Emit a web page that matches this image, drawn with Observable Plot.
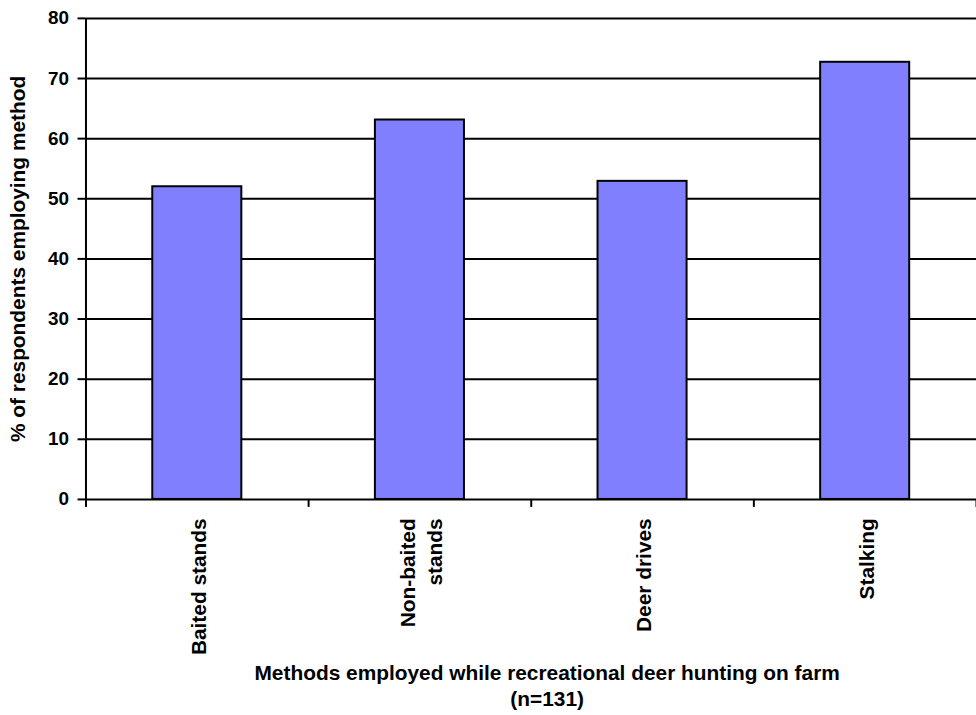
<!DOCTYPE html>
<html>
<head>
<meta charset="utf-8">
<script src="https://cdn.jsdelivr.net/npm/d3@7"></script>
<script src="https://cdn.jsdelivr.net/npm/@observablehq/plot@0.6"></script>
<style>
  html, body { margin: 0; padding: 0; background: #fff; overflow: hidden; }
  #chart svg { display: block; }
</style>
</head>
<body>
<div id="chart"></div>
<script>
// Hunting methods reported by respondents (n=131)
const categories = ["Baited stands", "Non-baited\nstands", "Deer drives", "Stalking"];
const percentages = [52.0, 63.1, 52.9, 72.7];
const yTicks = [0, 10, 20, 30, 40, 50, 60, 70, 80];
const xTitle = "Methods employed while recreational deer hunting on farm\n(n=131)";
const yTitle = "% of respondents employing method";

const rows = categories.map((name, i) => ({name, i, value: percentages[i]}));
const slots = d3.range(categories.length + 1);

const font = "'Liberation Sans', Arial, sans-serif";

const chart = Plot.plot({
  width: 982,
  height: 715,
  marginLeft: 86,
  marginRight: 0,
  marginTop: 18,
  marginBottom: 213,
  style: {fontFamily: font, fontWeight: "bold", fontSize: "19px", color: "#000", background: "#fff"},
  x: {domain: [0, categories.length], axis: null},
  y: {domain: [0, 80], axis: null},
  marks: [
    // horizontal gridlines
    Plot.ruleY(yTicks, {stroke: "#000", strokeWidth: 2}),
    // bars
    Plot.rectY(rows, {
      x1: d => d.i + 0.3,
      x2: d => d.i + 0.7,
      y: "value",
      fill: "#8080ff",
      stroke: "#000",
      strokeWidth: 2
    }),
    // y axis
    Plot.axisY({
      ticks: yTicks,
      tickSize: 8,
      tickPadding: 9,
      strokeWidth: 2,
      fontSize: 19,
      fontWeight: "bold",
      label: null
    }),
    Plot.ruleX([0], {stroke: "#000", strokeWidth: 2}),
    // x axis with ticks between categories
    Plot.axisX({
      ticks: slots,
      tickSize: 8,
      strokeWidth: 2,
      tickFormat: () => "",
      label: null
    }),
    // rotated category labels
    Plot.text(rows, {
      x: d => d.i + 0.5,
      y: 0,
      text: "name",
      rotate: -90,
      textAnchor: "end",
      lineAnchor: "middle",
      lineHeight: 1.27,
      dy: 19,
      fontSize: 21,
      fontWeight: "bold"
    }),
    // x axis title
    Plot.text([xTitle], {
      frameAnchor: "bottom",
      dx: 16,
      dy: 186,
      lineAnchor: "middle",
      lineHeight: 1.25,
      fontSize: 21,
      fontWeight: "bold"
    }),
    // y axis title
    Plot.text([yTitle], {
      frameAnchor: "left",
      dx: -68,
      rotate: -90,
      textAnchor: "middle",
      lineAnchor: "middle",
      fontSize: 21,
      fontWeight: "bold"
    })
  ]
});

document.getElementById("chart").appendChild(chart);
</script>
</body>
</html>
